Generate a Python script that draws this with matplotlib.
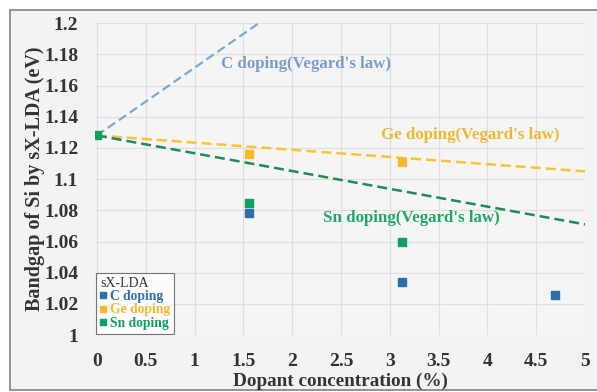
import matplotlib
matplotlib.use("Agg")
import matplotlib.pyplot as plt
from matplotlib.patches import Rectangle
from matplotlib.lines import Line2D

plt.rcParams['font.family'] = ['Liberation Serif', 'DejaVu Serif']

# Data
si_x = [0.0]
si_y = [1.128]
c_x = [1.5625, 3.125, 4.6875]
c_y = [1.078, 1.034, 1.026]
ge_x = [1.5625, 3.125]
ge_y = [1.116, 1.111]
sn_x = [1.5625, 3.125]
sn_y = [1.085, 1.060]

# Vegard's law lines (endpoints)
c_law_x = [0.0, 1.66]
c_law_y = [1.128, 1.2]
ge_law_x = [0.0, 5.0]
ge_law_y = [1.128, 1.105]
sn_law_x = [0.0, 5.0]
sn_law_y = [1.128, 1.071]

xticks = [0, 0.5, 1, 1.5, 2, 2.5, 3, 3.5, 4, 4.5, 5]
xtick_labels = ['0', '0.5', '1', '1.5', '2', '2.5', '3', '3.5', '4', '4.5', '5']
yticks = [1, 1.02, 1.04, 1.06, 1.08, 1.1, 1.12, 1.14, 1.16, 1.18, 1.2]
ytick_labels = ['1', '1.02', '1.04', '1.06', '1.08', '1.1', '1.12', '1.14', '1.16', '1.18', '1.2']

c_blue = '#2e6fa8'
c_line = '#7aa8d8'
ge_col = '#f5b82e'
ge_line = '#f7c531'
sn_col = '#10a060'
sn_line = '#1f8a5a'

fig = plt.figure(figsize=(5.97, 3.92), dpi=100, facecolor='white')
frame = Rectangle((0.0168, 0.005), 1.0, 0.9695, transform=fig.transFigure,
                  facecolor='#f3f3f3', edgecolor='#8a8a8a', lw=1.3, zorder=-5)
fig.add_artist(frame)
ax = fig.add_axes([0.159, 0.145, 0.821, 0.796])
ax.set_zorder(1)
ax.set_facecolor('#f5f5f5')

ax.plot(c_law_x, c_law_y, linestyle=(0, (4, 2)), color=c_line, lw=1.6, zorder=2)
ax.plot(ge_law_x, ge_law_y, linestyle=(0, (4, 2)), color=ge_line, lw=1.8, zorder=2)
ax.plot(sn_law_x, sn_law_y, linestyle=(0, (4, 2)), color=sn_line, lw=1.8, zorder=2)

ax.scatter(si_x, si_y, marker='s', s=40, color=sn_col, zorder=3)
ax.scatter(ge_x, ge_y, marker='s', s=40, color=ge_col, zorder=3)
ax.scatter(sn_x, sn_y, marker='s', s=40, color=sn_col, zorder=3)
ax.scatter(c_x, c_y, marker='s', s=40, color=c_blue, zorder=3)

ax.set_xlim(0 - 0.02, 5.0)
ax.set_ylim(1.0, 1.2)
ax.set_xticks(xticks)
ax.set_xticklabels(xtick_labels)
ax.set_yticks(yticks)
ax.set_yticklabels(ytick_labels)
ax.tick_params(length=0, labelsize=14)
ax.tick_params(axis='x', pad=13)
ax.tick_params(axis='y', pad=12)
for lab in ax.get_xticklabels() + ax.get_yticklabels():
    lab.set_fontweight('bold')
    lab.set_color('#333333')
ax.grid(True, color='#e0e0e0', lw=0.9)
ax.set_axisbelow(True)
for s in ax.spines.values():
    s.set_visible(False)

ax.set_xlabel('Dopant concentration (%)', fontsize=13.8, fontweight='bold', color='#333333', labelpad=2)
ax.set_ylabel('Bandgap of Si by sX-LDA (eV)', fontsize=14.5, fontweight='bold', color='#333333', labelpad=-1)

ax.text(1.276, 1.174, "C doping(Vegard's law)", color='#7a9ccc', fontsize=12.2,
        fontweight='bold', va='center')
ax.text(2.91, 1.128, "Ge doping(Vegard's law)", color='#f0b830', fontsize=12.2,
        fontweight='bold', va='center')
ax.text(2.32, 1.075, "Sn doping(Vegard's law)", color='#20a868', fontsize=12.2,
        fontweight='bold', va='center')

handles = [Line2D([], [], marker='s', ls='', color=c_blue, markersize=4),
           Line2D([], [], marker='s', ls='', color=ge_col, markersize=4),
           Line2D([], [], marker='s', ls='', color=sn_col, markersize=4)]
leg = ax.legend(handles, ['C doping', 'Ge doping', 'Sn doping'], title='sX-LDA',
                loc='lower left', bbox_to_anchor=(0.0, 0.0), fontsize=9.8,
                title_fontsize=10, frameon=True, fancybox=False, edgecolor='#555555',
                handlelength=0.4, handletextpad=0.3, borderpad=0.3, labelspacing=0.02,
                borderaxespad=0.1)
leg.get_frame().set_facecolor('white')
leg.get_frame().set_linewidth(0.8)
leg._legend_box.align = 'left'
for t, col in zip(leg.get_texts(), [c_blue, ge_col, sn_col]):
    t.set_color(col)
    t.set_fontweight('bold')
leg.get_title().set_color('#333333')

fig.savefig('out.png', dpi=100, facecolor=fig.get_facecolor())
